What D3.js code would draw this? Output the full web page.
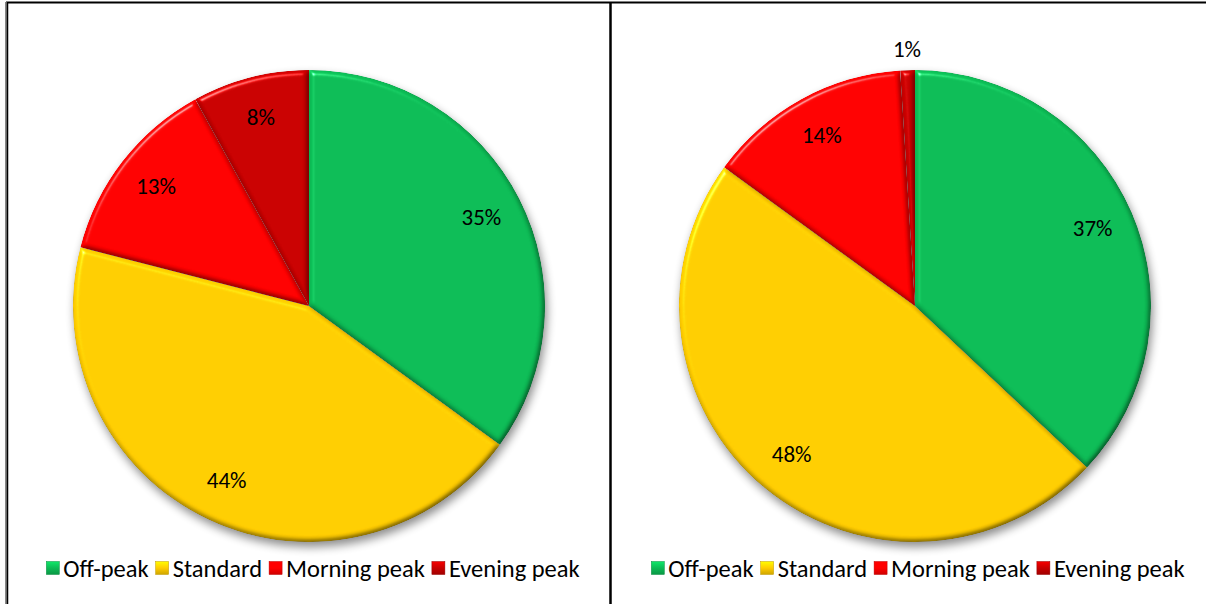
<!DOCTYPE html>
<html><head><meta charset="utf-8">
<script src="https://cdn.jsdelivr.net/npm/d3@7"></script>
<style>body{margin:0;background:#fff;} svg{display:block;}</style>
</head><body>
<svg id="c" width="1208" height="604"></svg>
<script>
const categories = ["Off-peak", "Standard", "Morning peak", "Evening peak"];
const seriesLeft = [35, 44, 13, 8];
const seriesRight = [37, 48, 14, 1];
const colors = ["#0CBB55", "#FFCC00", "#FF0000", "#C80000"];

const svg = d3.select("#c");
const defs = svg.append("defs");

// drop shadow
const sh = defs.append("filter").attr("id","shadow").attr("x","-20%").attr("y","-20%").attr("width","140%").attr("height","140%")
  .attr("color-interpolation-filters","sRGB");
sh.append("feGaussianBlur").attr("in","SourceAlpha").attr("stdDeviation",5).attr("result","b");
sh.append("feOffset").attr("in","b").attr("dx",2).attr("dy",5).attr("result","o");
sh.append("feComponentTransfer").attr("in","o").attr("result","s").append("feFuncA").attr("type","linear").attr("slope",0.45);
const shm = sh.append("feMerge"); shm.append("feMergeNode").attr("in","s"); shm.append("feMergeNode").attr("in","SourceGraphic");

// bevel
const bv = defs.append("filter").attr("id","bevel").attr("x","-5%").attr("y","-5%").attr("width","110%").attr("height","110%")
  .attr("color-interpolation-filters","sRGB");
bv.append("feGaussianBlur").attr("in","SourceAlpha").attr("stdDeviation",2.5).attr("result","blur");
const sp = bv.append("feSpecularLighting").attr("in","blur").attr("surfaceScale",4).attr("specularConstant",0.6)
  .attr("specularExponent",40).attr("lighting-color","#ffffff").attr("result","spec");
sp.append("feDistantLight").attr("azimuth",235).attr("elevation",40);
bv.append("feComposite").attr("in","spec").attr("in2","SourceAlpha").attr("operator","in").attr("result","specIn");
const df = bv.append("feDiffuseLighting").attr("in","blur").attr("surfaceScale",3).attr("diffuseConstant",1)
  .attr("lighting-color","#ffffff").attr("result","diff");
df.append("feDistantLight").attr("azimuth",235).attr("elevation",60);
bv.append("feComposite").attr("in","SourceGraphic").attr("in2","diff").attr("operator","arithmetic")
  .attr("k1",0.8).attr("k2",0.307).attr("result","shaded");
bv.append("feComposite").attr("in","shaded").attr("in2","specIn").attr("operator","arithmetic").attr("k2",1).attr("k3",1).attr("result","lit");
bv.append("feComposite").attr("in","lit").attr("in2","SourceAlpha").attr("operator","in");

// legend gradients
colors.forEach((c,i)=>{
  const g = defs.append("linearGradient").attr("id","lg"+i).attr("x1",0).attr("y1",0).attr("x2",0).attr("y2",1);
  g.append("stop").attr("offset","0%").attr("stop-color",d3.color(c).brighter(0.6));
  g.append("stop").attr("offset","50%").attr("stop-color",c);
  g.append("stop").attr("offset","100%").attr("stop-color",d3.color(c).darker(0.6));
});

// frame lines
svg.append("line").attr("x1",6).attr("x2",1206).attr("y1",2.5).attr("y2",2.5).attr("stroke","#000").attr("stroke-width",2);
svg.append("line").attr("x1",6).attr("x2",6).attr("y1",2).attr("y2",604).attr("stroke","#888").attr("stroke-width",2);
svg.append("line").attr("x1",7.5).attr("x2",7.5).attr("y1",2).attr("y2",604).attr("stroke","#000").attr("stroke-width",1.5);
svg.append("line").attr("x1",610.5).attr("x2",610.5).attr("y1",2).attr("y2",604).attr("stroke","#000").attr("stroke-width",2.5);

const R = 236;
const font = "Calibri, Carlito, Lato, 'Liberation Sans', sans-serif";

function drawPie(values, cx, cy, legendX, outsideSmall) {
  const pie = d3.pie().sort(null).value(d=>d);
  const arcs = pie(values);
  const arc = d3.arc().innerRadius(0).outerRadius(R);
  const g = svg.append("g").attr("transform",`translate(${cx},${cy})`);
  const inner = g.append("g").attr("filter","url(#shadow)");
  inner.selectAll("path").data(arcs).join("path")
    .attr("d",arc).attr("fill",(d,i)=>colors[i]).attr("filter","url(#bevel)");
  const lab = d3.arc().innerRadius(R*0.82).outerRadius(R*0.82);
  const labOut = d3.arc().innerRadius(R*1.085).outerRadius(R*1.085);
  g.selectAll("text").data(arcs).join("text")
    .attr("transform",d=>{
      const p = (outsideSmall && d.data < 3) ? labOut.centroid(d) : lab.centroid(d);
      return `translate(${p[0]},${p[1]})`;
    })
    .attr("text-anchor","middle").attr("dy","0.3em")
    .attr("font-family",font).attr("font-size",23).attr("fill","#000")
    .text(d=>d.data+"%");

  // legend
  const lg = svg.append("g");
  let x = 0;
  categories.forEach((c,i)=>{
    lg.append("rect").attr("x",x).attr("y",-6.5).attr("width",13).attr("height",13)
      .attr("fill",`url(#lg${i})`).attr("stroke",d3.color(colors[i]).darker(0.8)).attr("stroke-width",0.5);
    const t = lg.append("text").attr("x",x+17).attr("y",0).attr("dy","0.35em")
      .attr("font-family",font).attr("font-size",24.5).attr("fill","#000").text(c);
    x += 17 + t.node().getComputedTextLength() + 7;
  });
  const total = x - 7;
  lg.attr("transform",`translate(${legendX - total/2},568)`);
}

drawPie(seriesLeft, 309, 306, 313, false);
drawPie(seriesRight, 915, 306, 918, true);
</script>
</body></html>
